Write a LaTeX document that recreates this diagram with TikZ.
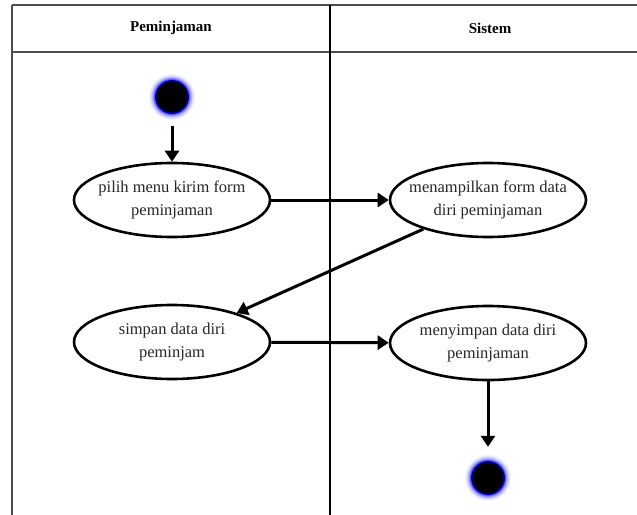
\documentclass[tikz,border=0pt]{standalone}
\usepackage{fontspec}
\setmainfont{Liberation Serif}
\usetikzlibrary{shapes.geometric,arrows.meta}

\begin{document}
\begin{tikzpicture}[x=1pt,y=-1pt,
  frameline/.style={draw=black!70, line width=1.6pt},
  laneline/.style={draw=black, line width=2pt},
  activity/.style={ellipse, draw=black, line width=2.6pt, minimum width=196pt,
    minimum height=74pt, inner xsep=-12pt, inner ysep=0pt, align=center,
    font=\fontsize{16.5}{23}\selectfont, text=black!85},
  marker/.style={circle, minimum size=44pt, inner sep=0pt},
  flow/.style={line width=3pt, -{Triangle[width=14pt,length=11pt]}},
  lanehead/.style={font=\fontsize{15}{18}\selectfont\bfseries}]

  \useasboundingbox (0,0) rectangle (637,514);

  % swimlane frame
  \draw[frameline] (12,5) -- (650,5);
  \draw[frameline] (12,52) -- (650,52);
  \draw[frameline] (12,5) -- (12,520);
  \draw[laneline] (330,5) -- (330,520);

  \node[lanehead] (hpem) at (171,28) {Peminjaman};
  \node[lanehead] (hsis) at (490,28) {Sistem};

  % initial and final markers: black disc with a soft blue halo
  \node[marker] (start) at (172,97) {};
  \node[marker] (stop) at (488,478) {};
  \foreach \m in {start,stop}{
    \foreach \r/\c in {23/5,22/10,21/18,20/30,19/45,18/65}
      \fill[blue!\c!white] (\m.center) circle (\r);
    \fill[blue!70!black] (\m.center) circle (17);
    \fill[black] (\m.center) circle (15.5);
  }

  % activities
  \node[activity] (a1) at (172,200) {pilih menu kirim form\\peminjaman};
  \node[activity] (a2) at (488,200) {menampilkan form data\\diri peminjaman};
  \node[activity] (a3) at (172,342) {simpan data diri\\peminjam};
  \node[activity] (a4) at (488,343) {menyimpan data diri\\peminjaman};

  % control flow
  \draw[flow, shorten <=7pt] (start) -- (a1);
  \draw[flow] (a1) -- (a2);
  \draw[flow] (a2) -- (a3);
  \draw[flow] (a3) -- (a4);
  \draw[flow, shorten >=9pt] (a4) -- (stop);
\end{tikzpicture}
\end{document}
